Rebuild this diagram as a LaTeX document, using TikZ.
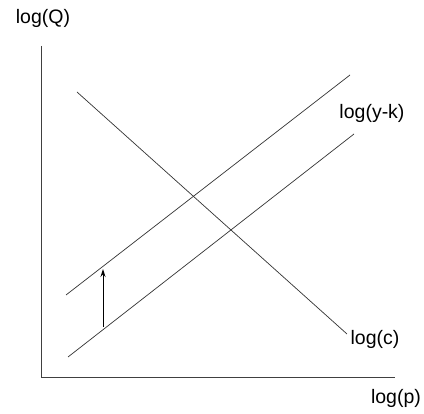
\documentclass[tikz,border=0pt]{standalone}
\usepackage{fontspec}
\setmainfont{Liberation Sans}
\usetikzlibrary{arrows.meta}
\begin{document}
\begin{tikzpicture}[x=1pt,y=-1pt,
  lbl/.style={inner sep=0pt, font=\fontsize{19.5}{22}\selectfont},
  ax/.style={draw=black!75, line width=1pt},
  ln/.style={draw=black!80, line width=0.7pt}]
\useasboundingbox[fill=white] (0,0) rectangle (424,414);
% axes
\coordinate (o) at (41,378);
\coordinate (ytop) at (41,46);
\coordinate (xend) at (395,378);
\draw[ax] (ytop) -- (o) -- (xend);
% lines
\coordinate (u1) at (66,295);
\coordinate (u2) at (350,75);
\coordinate (l1) at (68,357);
\coordinate (l2) at (354,134);
\coordinate (d1) at (77,92);
\coordinate (d2) at (347,334);
\draw[ln] (u1) -- (u2);
\draw[ln] (l1) -- (l2);
\draw[ln] (d1) -- (d2);
% arrow
\coordinate (a1) at (103,327);
\coordinate (a2) at (103,269);
\draw[line width=0.9pt, -{Stealth[length=8pt,width=5pt]}] (a1) -- (a2);
% labels
\node[lbl] (q) at (43,18) {log(Q)};
\node[lbl] (yk) at (372,113) {log(y-k)};
\node[lbl] (c) at (375,339) {log(c)};
\node[lbl] (p) at (396,398) {log(p)};
\end{tikzpicture}
\end{document}
